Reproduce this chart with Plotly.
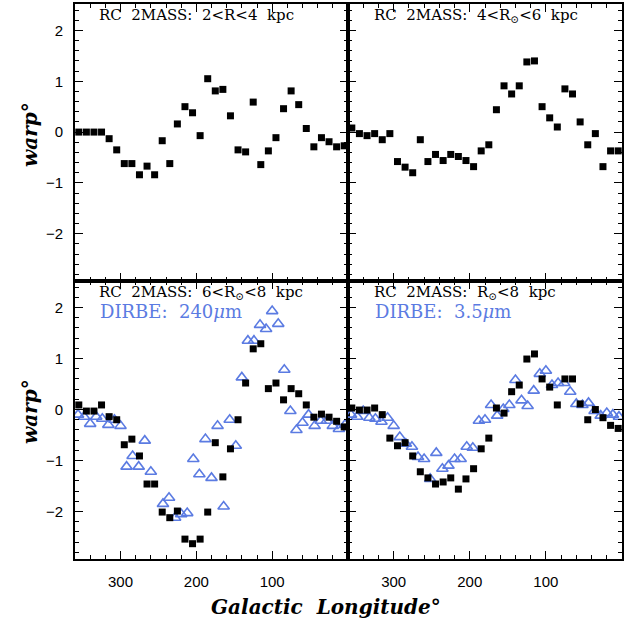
import plotly.graph_objects as go

# ---------------- data ----------------
lon_rc = [355, 345, 335, 325, 315, 305, 295, 285, 275, 265, 255, 245,
          235, 225, 215, 205, 195, 185, 175, 165, 155, 145, 135, 125,
          115, 105, 95, 85, 75, 65, 55, 45, 35, 25, 15, 5]

rc_2_4 = [0.00, 0.00, 0.00, 0.00, -0.13, -0.35, -0.62, -0.62, -0.84, -0.67, -0.84, -0.17,
          -0.62, 0.16, 0.50, 0.38, -0.07, 1.05, 0.81, 0.84, 0.32, -0.35, -0.39, 0.59,
          -0.64, -0.37, -0.11, 0.46, 0.81, 0.54, 0.07, -0.29, -0.11, -0.19, -0.29, -0.27]

rc_4_6 = [0.08, -0.03, -0.07, -0.03, -0.15, -0.03, -0.58, -0.69, -0.80, -0.15, -0.58, -0.44,
          -0.56, -0.44, -0.48, -0.56, -0.68, -0.37, -0.25, 0.44, 0.91, 0.75, 0.91, 1.38,
          1.40, 0.50, 0.28, 0.10, 0.85, 0.75, 0.20, -0.25, -0.03, -0.68, -0.37, -0.37]

rc_6_8 = [0.09, -0.03, -0.03, 0.09, -0.14, -0.20, -0.69, -0.58, -0.91, -1.46, -1.46, -2.01,
          -2.12, -1.99, -2.54, -2.63, -2.54, -2.01, -0.65, -1.32, -0.77, -0.20, 0.52, 1.19,
          1.29, 0.41, 0.52, 0.19, 0.41, 0.31, 0.09, -0.15, -0.09, -0.15, -0.23, -0.34]

rc_lt8 = [0.03, -0.01, -0.01, 0.03, -0.10, -0.56, -0.71, -0.65, -0.91, -1.22, -1.34, -1.46,
          -1.42, -1.34, -1.56, -1.36, -1.16, -0.77, -0.56, 0.03, -0.07, 0.35, 0.48, 0.99,
          1.09, 0.60, 0.44, 0.09, 0.60, 0.60, 0.11, -0.20, 0.00, -0.16, -0.31, -0.37]

lon_dirbe = [356, 348, 340, 332, 324, 316, 308, 300, 292, 284, 276, 268, 260, 252, 244,
             236, 228, 220, 212, 204, 196, 188, 180, 172, 164, 156, 148, 140, 132, 124,
             116, 108, 100, 92, 84, 76, 68, 60, 52, 44, 36, 28, 20, 12, 4]

dirbe_240 = [-0.10, -0.14, -0.28, -0.14, -0.18, -0.30, -0.20, -0.32, -1.12, -0.91, -1.12, -0.61,
             -1.22, None, -1.85, -1.73, -2.12, -2.05, -2.03, -0.97, -1.27, -0.58, -1.34, -0.32,
             -1.90, -0.20, -0.71, 0.63, 1.35, 1.35, 1.66, 1.58, 1.93, 1.68, 0.78, -0.03,
             -0.40, -0.26, -0.10, -0.32, -0.22, -0.22, -0.32, -0.38, -0.30]

dirbe_35 = [-0.10, -0.14, -0.03, -0.16, -0.18, -0.24, -0.16, -0.32, -0.54, -0.67,
            -0.73, -0.93, -0.97, -1.36, -0.85, -1.16, -1.10, -0.97, -0.97, -0.73,
            -0.75, -0.22, -0.20, 0.09, -0.12, 0.01, 0.09, 0.58, 0.18, 0.07,
            0.37, 0.70, 0.76, 0.48, 0.52, 0.52, 0.35, 0.11, 0.09, 0.13,
            -0.03, -0.12, -0.07, -0.10, -0.14]

x_ticks = [300, 200, 100]
y_ticks = [-2, -1, 0, 1, 2]

rc_labels = ["RC  2MASS:  2&lt;R&lt;4  kpc",
             "RC  2MASS:  4&lt;R<sub>⊙</sub>&lt;6  kpc",
             "RC  2MASS:  6&lt;R<sub>⊙</sub>&lt;8  kpc",
             "RC  2MASS:  R<sub>⊙</sub>&lt;8  kpc"]
dirbe_labels = ["DIRBE:  240<i>μ</i>m", "DIRBE:  3.5<i>μ</i>m"]

# ---------------- layout geometry ----------------
W, H = 629, 626
XL, XM, XR = 75, 348, 622
YT, YM, YB = 4, 281, 559
BLUE = "#5b7be2"


def px(v):
    return v / W


def py(v):
    return 1 - v / H


fig = go.Figure()

sq = dict(symbol="square", size=7, color="black", line=dict(width=0))
tri = dict(symbol="triangle-up-open", size=10, color=BLUE, line=dict(width=1.6, color=BLUE))

panels = [
    ("x", "y", rc_2_4, None),
    ("x2", "y2", rc_4_6, None),
    ("x3", "y3", rc_6_8, dirbe_240),
    ("x4", "y4", rc_lt8, dirbe_35),
]
for xa, ya, rc, dirbe in panels:
    if dirbe is not None:
        fig.add_trace(go.Scatter(x=lon_dirbe, y=dirbe, mode="markers", marker=tri,
                                 xaxis=xa, yaxis=ya, showlegend=False, cliponaxis=True))
    fig.add_trace(go.Scatter(x=lon_rc, y=rc, mode="markers", marker=sq,
                             xaxis=xa, yaxis=ya, showlegend=False, cliponaxis=True))

tickfont = dict(family="Liberation Sans", size=15, color="black")
common = dict(showline=True, linecolor="black", linewidth=1.6, mirror="allticks",
              ticks="inside", ticklen=8, tickwidth=1, tickcolor="black",
              showgrid=False, zeroline=False, tickfont=tickfont)

xcommon = dict(common, range=[360, 0], tickvals=x_ticks,
               minor=dict(dtick=20, tick0=0, ticks="inside", ticklen=4, tickwidth=1,
                          tickcolor="black", showgrid=False))
ycommon = dict(common, range=[-2.93, 2.52], tickvals=y_ticks,
               minor=dict(dtick=0.2, tick0=0, ticks="inside", ticklen=4, tickwidth=1,
                          tickcolor="black", showgrid=False))

fig.update_layout(
    width=W, height=H, margin=dict(l=0, r=0, t=0, b=0),
    paper_bgcolor="white", plot_bgcolor="white", showlegend=False,
    xaxis=dict(xcommon, domain=[px(XL), px(XM)], anchor="y", showticklabels=False),
    yaxis=dict(ycommon, domain=[py(YM), py(YT)], anchor="x", ticklabelstandoff=7),
    xaxis2=dict(xcommon, domain=[px(XM), px(XR)], anchor="y2", showticklabels=False),
    yaxis2=dict(ycommon, domain=[py(YM), py(YT)], anchor="x2", showticklabels=False),
    xaxis3=dict(xcommon, domain=[px(XL), px(XM)], anchor="y3", ticklabelstandoff=8),
    yaxis3=dict(ycommon, domain=[py(YB), py(YM)], anchor="x3", ticklabelstandoff=7),
    xaxis4=dict(xcommon, domain=[px(XM), px(XR)], anchor="y4", ticklabelstandoff=8),
    yaxis4=dict(ycommon, domain=[py(YB), py(YM)], anchor="x4", showticklabels=False),
)

txtfont = dict(family="DejaVu Serif", size=15, color="black")
bluefont = dict(family="DejaVu Serif", size=18, color=BLUE)
pos = [(97, 15), (372, 15), (97, 292), (372, 292)]
for (xp, yp), lab in zip(pos, rc_labels):
    fig.add_annotation(text=lab, x=px(xp), y=py(yp), xref="paper", yref="paper",
                       xanchor="left", yanchor="middle", showarrow=False, font=txtfont)
for (xp, yp), lab in zip([(98, 311), (373, 311)], dirbe_labels):
    fig.add_annotation(text=lab, x=px(xp), y=py(yp), xref="paper", yref="paper",
                       xanchor="left", yanchor="middle", showarrow=False, font=bluefont)

titlefont = dict(family="DejaVu Serif", size=20, color="black")
for yc in (135, 412):
    fig.add_annotation(text="<b><i>warp°</i></b>", x=px(30), y=py(yc), xref="paper",
                       yref="paper", textangle=-90, showarrow=False, font=titlefont,
                       xanchor="center", yanchor="middle")
fig.add_annotation(text="<b><i>Galactic  Longitude°</i></b>", x=px(326), y=py(607),
                   xref="paper", yref="paper", showarrow=False, font=titlefont,
                   xanchor="center", yanchor="middle")

fig.write_html("out.html")
